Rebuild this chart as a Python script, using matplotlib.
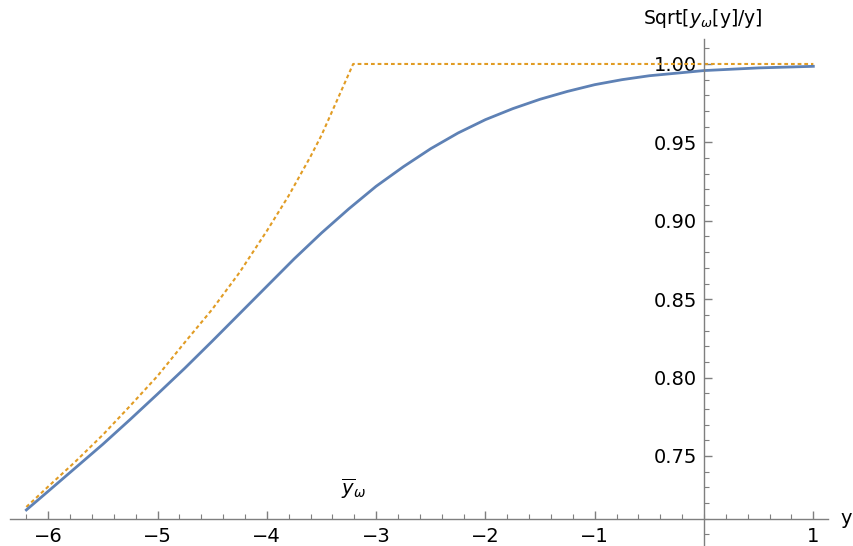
import numpy as np
import matplotlib
matplotlib.use("Agg")
import matplotlib.pyplot as plt
from matplotlib.ticker import FixedLocator

# values
y_exact = [-6.2, -6.0, -5.75, -5.5, -5.25, -5.0, -4.75, -4.5, -4.25, -4.0,
           -3.75, -3.5, -3.25, -3.0, -2.75, -2.5, -2.25, -2.0, -1.75, -1.5,
           -1.25, -1.0, -0.75, -0.5, 0.0, 0.5, 1.0]
ratio_exact = [0.7156, 0.7275, 0.7425, 0.7575, 0.7733, 0.7895, 0.806, 0.8232,
               0.8407, 0.8582, 0.8757, 0.8922, 0.9076, 0.922, 0.9345, 0.946,
               0.956, 0.9645, 0.9715, 0.9775, 0.9825, 0.9868, 0.990, 0.9925,
               0.9958, 0.9975, 0.9985]

y_approx = [-6.2, -6.0, -5.75, -5.5, -5.25, -5.0, -4.75, -4.5, -4.25, -4.0,
            -3.8, -3.6, -3.5, -3.35, -3.21, 1.0]
ratio_approx = [0.7175, 0.7305, 0.7465, 0.7635, 0.782, 0.801, 0.8225, 0.8435,
                0.867, 0.8935, 0.916, 0.941, 0.9545, 0.978, 1.0, 1.0]

y_bar = -3.21
x_major = [-6, -5, -4, -3, -2, -1, 1]
y_major = [0.75, 0.80, 0.85, 0.90, 0.95, 1.00]

blue = "#5E81B5"
orange = "#E19C24"
axis_col = "#7f7f7f"

plt.rcParams["mathtext.fontset"] = "dejavusans"

fig = plt.figure(figsize=(8.54, 5.46), dpi=100)
ax = fig.add_axes([0, 0, 1, 1])
ax.set_xlim(-6.441, 1.372)
ax.set_ylim(0.6926, 1.0408)

ax.plot(y_approx, ratio_approx, color=orange, lw=1.5, linestyle=(0, (1.8, 1.4)))
ax.plot(y_exact, ratio_exact, color=blue, lw=2.0)

for s in ["top", "right"]:
    ax.spines[s].set_visible(False)
ax.spines["left"].set_position(("data", 0))
ax.spines["bottom"].set_position(("data", 0.71))
ax.spines["bottom"].set_bounds(-6.35, 1.135)
ax.spines["left"].set_bounds(0.6926, 1.016)
for s in ["left", "bottom"]:
    ax.spines[s].set_color(axis_col)
    ax.spines[s].set_linewidth(1.0)

# minor ticks only where the axis line is drawn
x_minor = np.round(np.arange(-6.2, 1.01, 0.2), 2)
y_minor = np.round(np.arange(0.70, 1.011, 0.01), 3)

ax.xaxis.set_major_locator(FixedLocator(x_major))
ax.xaxis.set_minor_locator(FixedLocator(x_minor))
ax.yaxis.set_major_locator(FixedLocator(y_major))
ax.yaxis.set_minor_locator(FixedLocator(y_minor))
ax.set_xticklabels(["\u2212%d" % -v if v < 0 else "%d" % v for v in x_major])
ax.set_yticklabels(["%.2f" % v for v in y_major])

ax.tick_params(which="both", direction="in", color=axis_col, labelsize=14)
ax.tick_params(axis="x", which="major", length=6, width=1, pad=6)
ax.tick_params(axis="x", which="minor", length=3.5, width=0.8)
ax.tick_params(axis="y", which="major", length=6, width=1, pad=5)
ax.tick_params(axis="y", which="minor", length=3.5, width=0.8)

ax.text(1.25, 0.71, "y", fontsize=14, ha="left", va="center")
ax.text(-0.01, 1.0293, r"Sqrt[$y_\omega$[y]/y]", fontsize=13.5, ha="center", va="center")
ax.text(y_bar, 0.7215, r"$\overline{y}_\omega$", fontsize=14, ha="center", va="bottom")

fig.savefig("out.png", dpi=100)
